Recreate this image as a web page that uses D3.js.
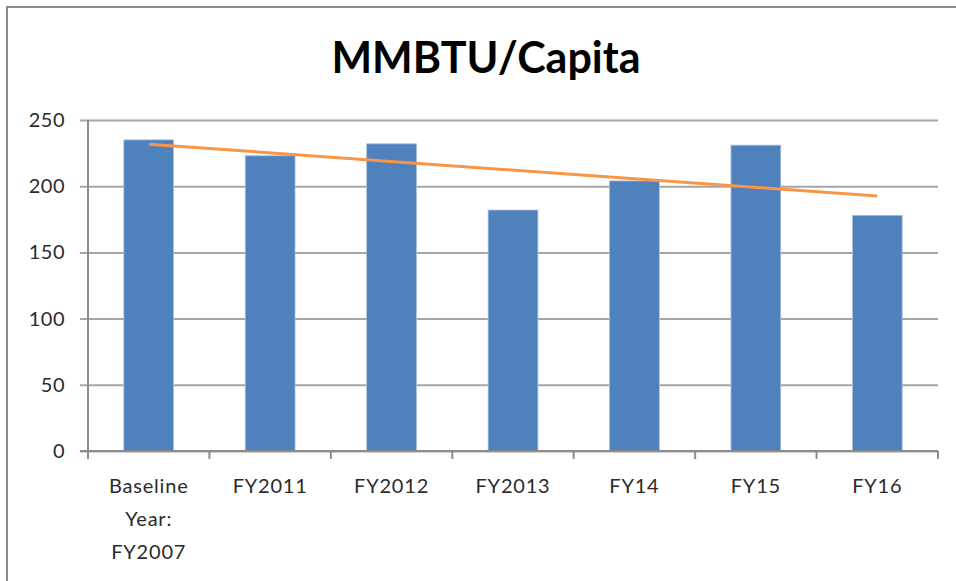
<!DOCTYPE html>
<html>
<head>
<meta charset="utf-8">
<script src="https://cdn.jsdelivr.net/npm/d3@7"></script>
<style>
  body { margin: 0; background: #fff; }
  svg text { font-family: Lato, "Open Sans", sans-serif; fill: #2b2b2b; }
</style>
</head>
<body>
<svg id="chart"></svg>
<script>
// data
const categories = [["Baseline", "Year:", "FY2007"], ["FY2011"], ["FY2012"], ["FY2013"], ["FY14"], ["FY15"], ["FY16"]];
const values = [235, 223, 232, 182, 204, 231, 178];
const yTicks = [0, 50, 100, 150, 200, 250];

// canvas
const canvWidth = 956;
const canvHeight = 581;
const margin = { top: 120, right: 18, bottom: 130, left: 88 };
const width = canvWidth - margin.left - margin.right;
const height = 451 - margin.top;

const svg = d3.select("#chart")
    .attr("width", canvWidth)
    .attr("height", canvHeight);

// outer frame of the chart (bottom/right run off the picture)
svg.append("rect")
    .attr("x", 7).attr("y", 7)
    .attr("width", canvWidth + 20).attr("height", canvHeight + 20)
    .attr("fill", "none")
    .attr("stroke", "#8c8c8c")
    .attr("stroke-width", 2);

svg.append("text")
    .attr("x", 486)
    .attr("y", 73)
    .attr("text-anchor", "middle")
    .style("font-size", "43px")
    .style("font-weight", "bold")
    .style("fill", "#000")
    .text("MMBTU/Capita");

const g = svg.append("g")
    .attr("transform", "translate(" + margin.left + "," + margin.top + ")");

const keys = categories.map(function (c, i) { return i; });

const x = d3.scaleBand()
    .domain(keys)
    .range([0, width])
    .paddingInner(0.59)
    .paddingOuter(0.295);

const xCat = d3.scaleBand()
    .domain(keys)
    .range([0, width]);

const y = d3.scaleLinear()
    .domain([0, 250])
    .range([height, 0]);

// gridlines + y axis labels
const yAxis = g.append("g")
    .call(d3.axisLeft(y).tickValues(yTicks).tickSize(-width - 8).tickPadding(14))
    .attr("transform", "translate(-8,0)");
yAxis.select(".domain").remove();
yAxis.selectAll(".tick line")
    .attr("stroke", "#a6a6a6")
    .attr("stroke-width", 2);
yAxis.selectAll(".tick text")
    .style("font-size", "20px")
    .style("letter-spacing", "0.5px")
    .attr("dx", "-1");

// y axis line
g.append("line")
    .attr("x1", 0).attr("x2", 0)
    .attr("y1", 0).attr("y2", height + 7)
    .attr("stroke", "#8c8c8c")
    .attr("stroke-width", 2);

// bars
g.selectAll(".bar")
    .data(values)
    .enter().append("rect")
    .attr("class", "bar")
    .attr("x", function (d, i) { return x(i); })
    .attr("width", x.bandwidth())
    .attr("y", function (d) { return y(d); })
    .attr("height", function (d) { return height - y(d); })
    .attr("fill", "#4f81bd")
    .attr("stroke", "#a9c1e0")
    .attr("stroke-width", 0.8);

// x axis with category boundary ticks
g.append("line")
    .attr("x1", -8).attr("x2", width)
    .attr("y1", height).attr("y2", height)
    .attr("stroke", "#8c8c8c")
    .attr("stroke-width", 2);

g.selectAll(".xtick")
    .data(keys.concat([keys.length]))
    .enter().append("line")
    .attr("class", "xtick")
    .attr("x1", function (d) { return d < keys.length ? xCat(d) : width; })
    .attr("x2", function (d) { return d < keys.length ? xCat(d) : width; })
    .attr("y1", height)
    .attr("y2", height + 8)
    .attr("stroke", "#8c8c8c")
    .attr("stroke-width", 2);

const labels = g.selectAll(".xlabel")
    .data(categories)
    .enter().append("text")
    .attr("class", "xlabel")
    .attr("text-anchor", "middle")
    .style("font-size", "20px")
    .style("letter-spacing", "0.8px")
    .attr("transform", function (d, i) {
        return "translate(" + (xCat(i) + xCat.bandwidth() / 2) + "," + (height + 42) + ")";
    });
labels.selectAll("tspan")
    .data(function (d) { return d; })
    .enter().append("tspan")
    .attr("x", 0)
    .attr("dy", function (d, i) { return i === 0 ? 0 : 33; })
    .text(function (d) { return d; });

// linear trend line (least squares over the bar values)
const n = values.length;
const meanX = d3.mean(keys);
const meanY = d3.mean(values);
const slope = d3.sum(values, function (v, i) { return (i - meanX) * (v - meanY); }) /
    d3.sum(keys, function (i) { return (i - meanX) * (i - meanX); });
const trend = [0, n - 1].map(function (i) {
    return [i, meanY + slope * (i - meanX)];
});

g.append("path")
    .datum(trend)
    .attr("fill", "none")
    .attr("stroke", "#f79646")
    .attr("stroke-width", 3)
    .attr("d", d3.line()
        .x(function (d) { return x(d[0]) + x.bandwidth() / 2; })
        .y(function (d) { return y(d[1]); }));
</script>
</body>
</html>
